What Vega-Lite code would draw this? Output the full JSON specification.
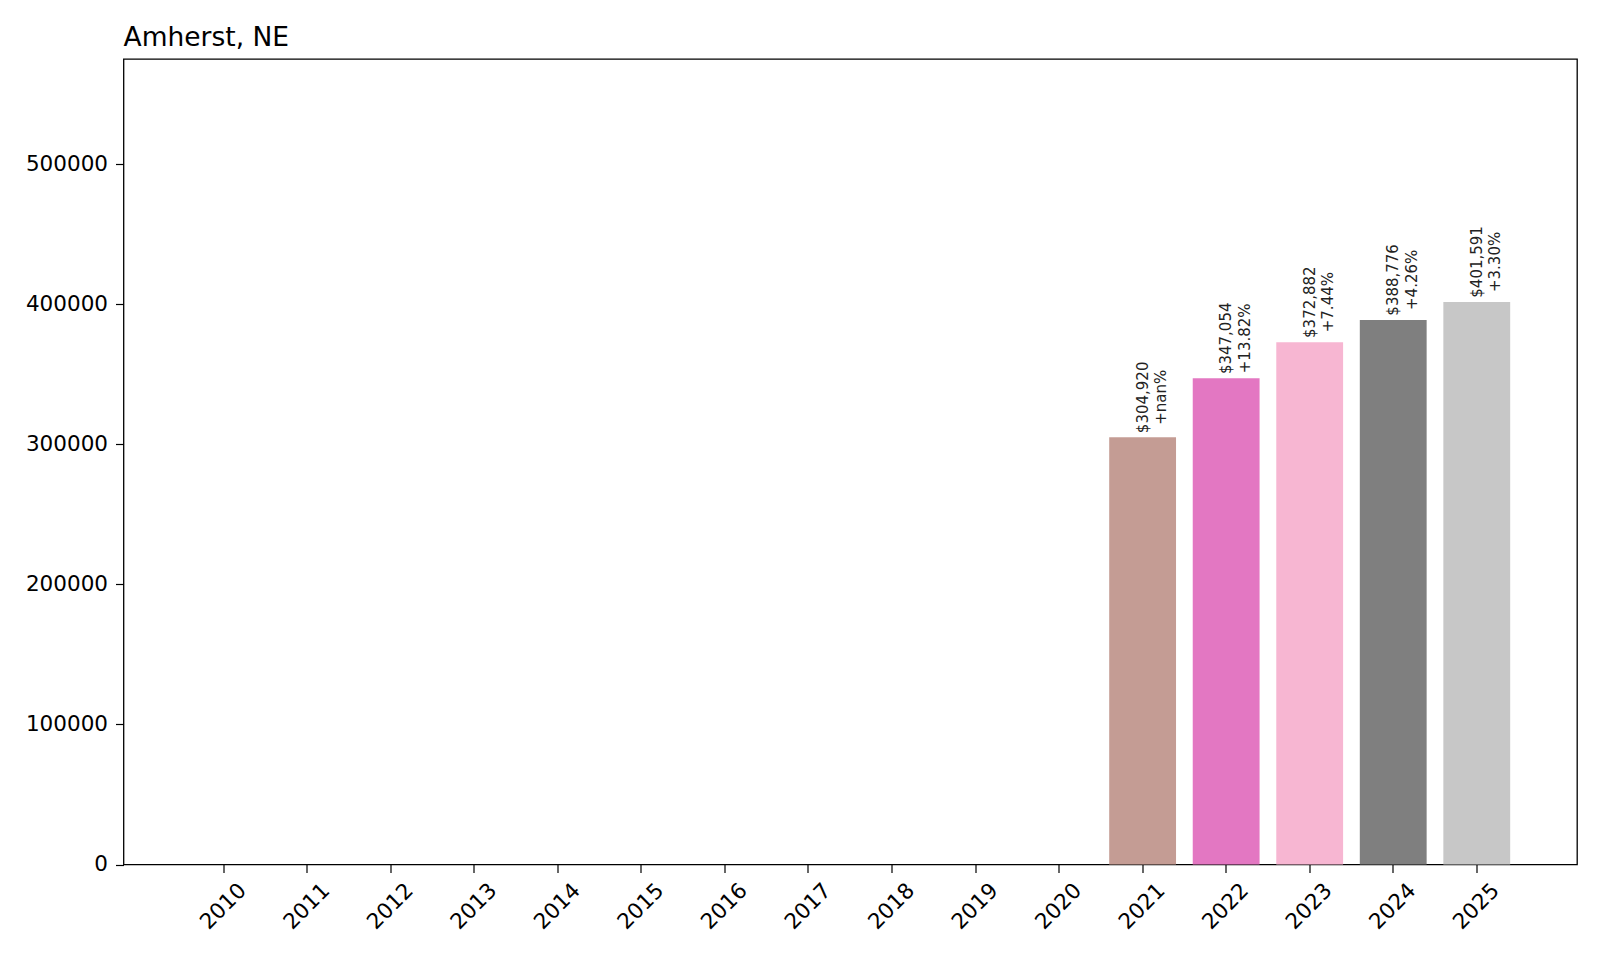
{
  "$schema": "https://vega.github.io/schema/vega-lite/v6.json",
  "autosize": "none",
  "padding": {"left": 123.5, "top": 59, "right": 23, "bottom": 95.5},
  "width": 1453.5,
  "height": 805.5,
  "title": {
    "text": "Amherst, NE",
    "anchor": "start",
    "frame": "group",
    "baseline": "alphabetic",
    "offset": 13,
    "dy": 26,
    "font": "DejaVu Sans",
    "fontSize": 26.5,
    "fontWeight": "normal",
    "color": "#000"
  },
  "config": {
    "view": {"stroke": "#000", "strokeWidth": 1.3},
    "axis": {
      "domain": false,
      "grid": false,
      "ticks": true,
      "tickColor": "#000",
      "tickSize": 8,
      "tickWidth": 1.2,
      "labelFont": "DejaVu Sans",
      "labelFontSize": 21.5,
      "labelColor": "#000",
      "title": null
    }
  },
  "data": {
    "values": [
      {"year": "2010", "value": 0, "label": ""},
      {"year": "2011", "value": 0, "label": ""},
      {"year": "2012", "value": 0, "label": ""},
      {"year": "2013", "value": 0, "label": ""},
      {"year": "2014", "value": 0, "label": ""},
      {"year": "2015", "value": 0, "label": ""},
      {"year": "2016", "value": 0, "label": ""},
      {"year": "2017", "value": 0, "label": ""},
      {"year": "2018", "value": 0, "label": ""},
      {"year": "2019", "value": 0, "label": ""},
      {"year": "2020", "value": 0, "label": ""},
      {"year": "2021", "value": 304920, "label": "$304,920\n+nan%"},
      {"year": "2022", "value": 347054, "label": "$347,054\n+13.82%"},
      {"year": "2023", "value": 372882, "label": "$372,882\n+7.44%"},
      {"year": "2024", "value": 388776, "label": "$388,776\n+4.26%"},
      {"year": "2025", "value": 401591, "label": "$401,591\n+3.30%"}
    ]
  },
  "encoding": {
    "x": {
      "field": "year",
      "type": "ordinal",
      "sort": "ascending",
      "scale": {"paddingInner": 0.2, "paddingOuter": 0.8},
      "axis": {
        "labelAngle": -45,
        "labelAlign": "center",
        "labelBaseline": "middle",
        "labelPadding": 34
      }
    },
    "y": {
      "field": "value",
      "type": "quantitative",
      "scale": {"domain": [0, 575000], "nice": false},
      "axis": {"values": [0, 100000, 200000, 300000, 400000, 500000], "format": "d", "labelPadding": 8}
    }
  },
  "layer": [
    {
      "mark": {"type": "bar"},
      "encoding": {
        "color": {
          "field": "year",
          "type": "ordinal",
          "legend": null,
          "scale": {
            "domain": ["2010", "2011", "2012", "2013", "2014", "2015", "2016", "2017", "2018", "2019", "2020", "2021", "2022", "2023", "2024", "2025"],
            "range": ["#1f77b4", "#aec7e8", "#ff7f0e", "#ffbb78", "#2ca02c", "#98df8a", "#d62728", "#ff9896", "#9467bd", "#c5b0d5", "#8c564b", "#c49c94", "#e377c2", "#f7b6d2", "#7f7f7f", "#c7c7c7"]
          }
        }
      }
    },
    {
      "mark": {
        "type": "text",
        "angle": -90,
        "align": "center",
        "baseline": "middle",
        "lineBreak": "\n",
        "lineHeight": 18.5,
        "dx": 40,
        "font": "DejaVu Sans",
        "fontSize": 15,
        "color": "#222"
      },
      "encoding": {
        "text": {"field": "label", "type": "nominal"}
      }
    }
  ]
}
